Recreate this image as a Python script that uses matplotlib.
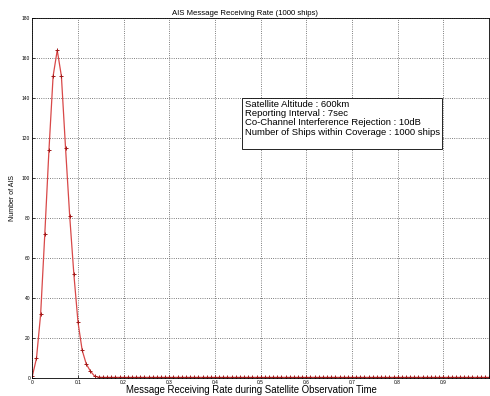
import numpy as np
from matplotlib import pyplot as plt
from matplotlib import patches

plt.rcParams['font.family'] = ['Liberation Sans', 'DejaVu Sans']

# number of AIS per receiving-rate bin
counts = [1, 10, 32, 72, 114, 151, 164, 151, 115, 81, 52, 28, 14, 7, 3.5, 1, 0.5,
          0.4, 0.4, 0.4, 0.4, 0.4, 0.4, 0.4, 0.4, 0.4, 0.4, 0.4, 0.4, 0.4, 0.4,
          0.4, 0.4, 0.4, 0.4, 0.4, 0.4, 0.4, 0.4, 0.4, 0.4, 0.4, 0.4, 0.4, 0.4,
          0.4, 0.4, 0.4, 0.4, 0.4, 0.4, 0.4, 0.4, 0.4, 0.4, 0.4, 0.4, 0.4, 0.4,
          0.4, 0.4, 0.4, 0.4, 0.4, 0.4, 0.4, 0.4, 0.4, 0.4, 0.4, 0.4, 0.4, 0.4,
          0.4, 0.4, 0.4, 0.4, 0.4, 0.4, 0.4, 0.4, 0.4, 0.4, 0.4, 0.4, 0.4, 0.4,
          0.4, 0.4, 0.4, 0.4, 0.4, 0.4, 0.4, 0.4, 0.4, 0.4, 0.4, 0.4, 0.4, 0.4,
          0.4, 0.4, 0.4, 0.4, 0.4, 0.4, 0.4, 0.4, 0.4, 0.4]
# bins are evenly spread over 0..1
rate = np.linspace(0, 1, len(counts))
xticks = [0, 0.1, 0.2, 0.3, 0.4, 0.5, 0.6, 0.7, 0.8, 0.9]
yticks = [0, 20, 40, 60, 80, 100, 120, 140, 160, 180]
info = ["Satellite Altitude : 600km",
        "Reporting Interval : 7sec",
        "Co-Channel Interference Rejection : 10dB",
        "Number of Ships within Coverage : 1000 ships"]

fig = plt.figure(figsize=(4.9, 3.96), dpi=100)
ax = fig.add_axes([0.066, 0.045, 0.932, 0.909])

ax.plot(rate, counts, color="#d84848", lw=0.9,
        marker="+", ms=3, mew=0.7, mec="#a01818")

ax.set_xlim(0, 1)
ax.set_ylim(0, 180)
ax.set_xticks(xticks)
ax.set_yticks(yticks)
ax.set_xticklabels([("%g" % t) for t in xticks])
ax.tick_params(labelsize=3.5, direction="in", length=2, width=0.5, pad=1.5)
ax.grid(True, linestyle=":", color="#555555", lw=0.6)
for s in ax.spines.values():
    s.set_linewidth(0.6)

ax.set_title("AIS Message Receiving Rate (1000 ships)", fontsize=5.6, pad=2, x=0.465)
ax.set_xlabel("Message Receiving Rate during Satellite Observation Time", fontsize=6.9, labelpad=0)
ax.xaxis.label.set_x(0.48)
ax.set_ylabel("Number of AIS", fontsize=5, labelpad=4)

# parameter box
ax.add_patch(patches.Rectangle((0.459, 114.5), 0.438, 25.5, facecolor="white",
                               edgecolor="black", lw=0.6, zorder=5))
for i, line in enumerate(info):
    ax.text(0.465, 137 - i * 4.65, line, fontsize=6.8, va="center", ha="left", zorder=6)

plt.savefig("out.png", dpi=100)
plt.close()
